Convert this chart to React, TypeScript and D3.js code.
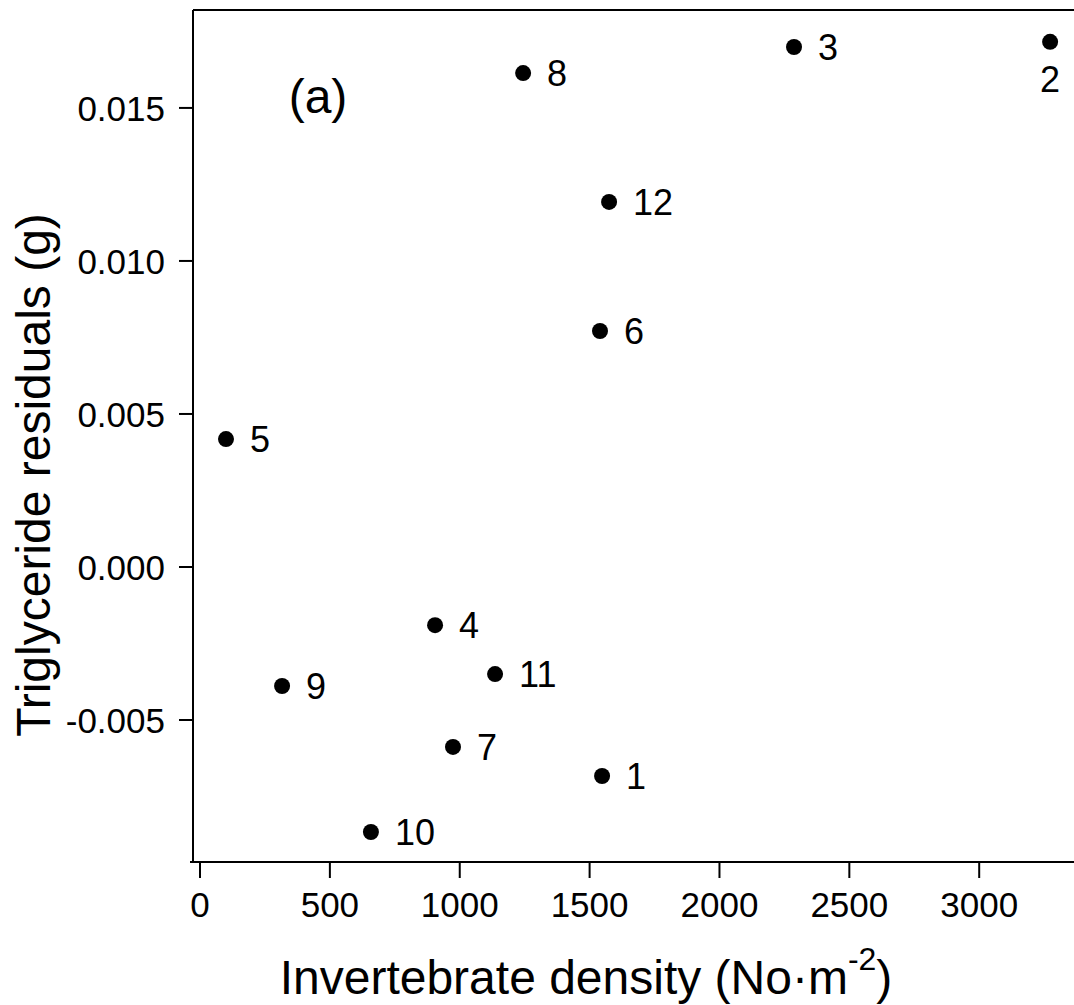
import React from "react";
import * as d3 from "d3";

const siteLabels = ["1", "2", "3", "4", "5", "6", "7", "8", "9", "10", "11", "12"];
const density = [1548, 3273, 2287, 905, 100, 1540, 974, 1244, 316, 658, 1136, 1575];
const residuals = [-0.00683, 0.01716, 0.01699, -0.0019, 0.00418, 0.00771, -0.00588, 0.01614, -0.00389, -0.00866, -0.0035, 0.01193];
const xTicks = [0, 500, 1000, 1500, 2000, 2500, 3000];
const yTicks = [-0.005, 0.0, 0.005, 0.01, 0.015];

const W = 1074;
const H = 1005;
const FONT = "'Liberation Sans', Arial, Helvetica, sans-serif";

export default function App() {
  const left = 193;
  const top = 10;
  const bottom = 862;
  const right = 1074;

  const x = d3.scaleLinear().domain([-27, 3365]).range([left, right]);
  const y = d3.scaleLinear().domain([-0.00964, 0.0182]).range([bottom, top]);

  const f3 = d3.format(".3f");
  const fmt = (v: number) => f3(v).replace("\u2212", "-");

  return (
    <svg width={W} height={H} style={{ position: "absolute", left: 0, top: 0, background: "#fff" }} fontFamily={FONT}>
      <rect x={0} y={0} width={W} height={H} fill="#fff" />
      {/* frame */}
      <line x1={left} y1={top} x2={right} y2={top} stroke="#000" strokeWidth={2} />
      <line x1={left} y1={top} x2={left} y2={bottom} stroke="#000" strokeWidth={2} />
      <line x1={left - 3} y1={bottom} x2={right} y2={bottom} stroke="#000" strokeWidth={2} />

      {/* y ticks */}
      {yTicks.map((t) => (
        <g key={"y" + t}>
          <line x1={left - 14} x2={left} y1={y(t)} y2={y(t)} stroke="#000" strokeWidth={2} />
          <text x={left - 28} y={y(t)} dy="0.36em" textAnchor="end" fontSize={35} fill="#000">
            {fmt(t)}
          </text>
        </g>
      ))}

      {/* x ticks */}
      {xTicks.map((t) => (
        <g key={"x" + t}>
          <line x1={x(t)} x2={x(t)} y1={bottom} y2={bottom + 16} stroke="#000" strokeWidth={2} />
          <text x={x(t)} y={917} textAnchor="middle" fontSize={35} fill="#000">
            {t}
          </text>
        </g>
      ))}

      {/* points */}
      {density.map((d, i) => {
        const cx = x(d);
        const cy = y(residuals[i]);
        const below = siteLabels[i] === "2";
        return (
          <g key={"p" + i}>
            <circle cx={cx} cy={cy} r={8} fill="#000" />
            {below ? (
              <text x={cx} y={cy + 50} textAnchor="middle" fontSize={36} fill="#000">
                {siteLabels[i]}
              </text>
            ) : (
              <text x={cx + 24} y={cy + 13} textAnchor="start" fontSize={36} fill="#000">
                {siteLabels[i]}
              </text>
            )}
          </g>
        );
      })}

      {/* panel label */}
      <text x={318} y={113} textAnchor="middle" fontSize={48} fill="#000">
        (a)
      </text>

      {/* x axis title */}
      <text x={586} y={994} textAnchor="middle" fontSize={48} fill="#000">
        Invertebrate density (No·m
        <tspan fontSize={32} dy={-24}>-2</tspan>
        <tspan dy={24}>)</tspan>
      </text>

      {/* y axis title */}
      <text
        transform={`translate(50, 475) rotate(-90)`}
        textAnchor="middle"
        fontSize={48}
        fill="#000"
      >
        Triglyceride residuals (g)
      </text>
    </svg>
  );
}
